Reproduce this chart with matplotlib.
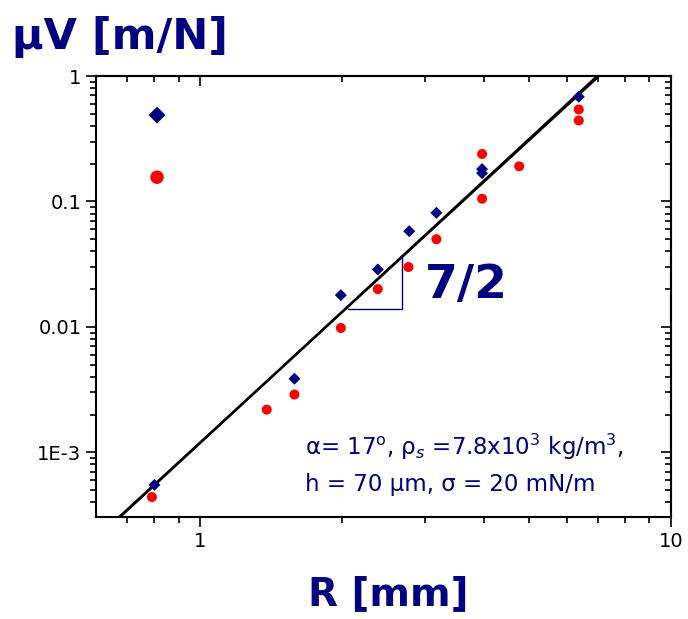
import matplotlib
matplotlib.use("Agg")
import matplotlib.pyplot as plt
from matplotlib.ticker import FixedLocator, FixedFormatter, NullFormatter, LogLocator

plt.rcParams['font.family'] = ['DejaVu Sans']
plt.rcParams['mathtext.fontset'] = 'dejavusans'

NAVY = '#000080'
RED = '#ff0000'

# data (R in mm, muV in m/N)
diamond_R = [0.81, 0.80, 1.586, 1.99, 2.384, 2.78, 3.175, 3.97, 3.97, 6.37]
diamond_V = [0.488, 5.5e-4, 3.86e-3, 0.0179, 0.0287, 0.0579, 0.0811, 0.181, 0.168, 0.683]

circle_R = [0.81, 0.79, 1.385, 1.586, 1.99, 2.384, 2.77, 3.175, 3.97, 3.97, 4.76, 6.37, 6.37]
circle_V = [0.156, 4.4e-4, 2.19e-3, 2.89e-3, 9.8e-3, 0.020, 0.030, 0.050, 0.239, 0.105, 0.1905, 0.541, 0.442]

# two power-law fits (end points)
fit1_R = [0.62, 7.2]
fit1_V = [2.26e-4, 1.118]
fit2_R = [0.62, 7.2]
fit2_V = [2.30e-4, 1.084]

# slope triangle
tri_R = [2.06, 2.69, 2.69]
tri_V = [0.01386, 0.01386, 0.037]

y_ticks = [1e-3, 1e-2, 1e-1, 1]
y_labels = ['1E-3', '0.01', '0.1', '1']
x_ticks = [1, 10]
x_labels = ['1', '10']

fig = plt.figure(figsize=(6.88, 6.19), dpi=100)
ax = fig.add_axes([96 / 688, 1 - 517 / 619, (671 - 96) / 688, (517 - 76) / 619])
ax.set_xscale('log')
ax.set_yscale('log')
ax.set_xlim(0.601, 10)
ax.set_ylim(3.05e-4, 1)

ax.plot(fit1_R, fit1_V, color='black', lw=1.7, zorder=2)
ax.plot(fit2_R, fit2_V, color='black', lw=1.7, zorder=2)
ax.plot(tri_R, tri_V, color=NAVY, lw=1.0, zorder=2)

d_sizes = [12] + [8.5] * (len(diamond_R) - 1)
c_sizes = [13.5] + [10] * (len(circle_R) - 1)
ax.scatter(diamond_R, diamond_V, marker='D', s=[(s * 0.72) ** 2 for s in d_sizes],
           color=NAVY, edgecolors='none', zorder=3)
ax.scatter(circle_R, circle_V, marker='o', s=[(s * 0.72) ** 2 for s in c_sizes],
           color=RED, edgecolors='none', zorder=3)

for sp in ax.spines.values():
    sp.set_linewidth(1.5)

ax.xaxis.set_major_locator(FixedLocator(x_ticks))
ax.xaxis.set_major_formatter(FixedFormatter(x_labels))
ax.xaxis.set_minor_locator(LogLocator(base=10, subs=range(2, 10)))
ax.xaxis.set_minor_formatter(NullFormatter())
ax.yaxis.set_major_locator(FixedLocator(y_ticks))
ax.yaxis.set_major_formatter(FixedFormatter(y_labels))
ax.yaxis.set_minor_locator(LogLocator(base=10, subs=range(2, 10), numticks=20))
ax.yaxis.set_minor_formatter(NullFormatter())
ax.tick_params(which='major', direction='out', length=7.5, width=1.2, labelsize=14, pad=3)
ax.tick_params(which='minor', direction='out', length=4.5, width=1.2)

secx = ax.secondary_xaxis('top')
secx.xaxis.set_major_locator(FixedLocator(x_ticks))
secx.xaxis.set_minor_locator(LogLocator(base=10, subs=range(2, 10)))
secx.tick_params(which='major', direction='in', length=7.5, width=1.2, labeltop=False)
secx.tick_params(which='minor', direction='in', length=4.5, width=1.2)
secx.spines['top'].set_linewidth(1.5)
secy = ax.secondary_yaxis('right')
secy.yaxis.set_major_locator(FixedLocator(y_ticks))
secy.yaxis.set_minor_locator(LogLocator(base=10, subs=range(2, 10), numticks=20))
secy.tick_params(which='major', direction='in', length=7.5, width=1.2, labelright=False)
secy.tick_params(which='minor', direction='in', length=4.5, width=1.2)
secy.spines['right'].set_linewidth(1.5)

ax.text(3.0, 0.0215, '7/2', color=NAVY, fontsize=34, fontweight='bold', va='center', ha='left')

fig.text(305 / 688, 1 - 447 / 619, r'α= 17$^\mathrm{o}$, ρ$_s$ =7.8x10$^3$ kg/m$^3$,',
         color=NAVY, fontsize=16.5, va='center', ha='left')
fig.text(305 / 688, 1 - 485 / 619, 'h = 70 μm, σ = 20 mN/m',
         color=NAVY, fontsize=16.5, va='center', ha='left')

fig.text(12 / 688, 1 - 37 / 619, 'μV [m/N]', color=NAVY, fontsize=31,
         fontweight='bold', va='center', ha='left')
fig.text(388 / 688, 1 - 594 / 619, 'R [mm]', color=NAVY, fontsize=28,
         fontweight='bold', va='center', ha='center')

fig.savefig('out.png', dpi=100)
